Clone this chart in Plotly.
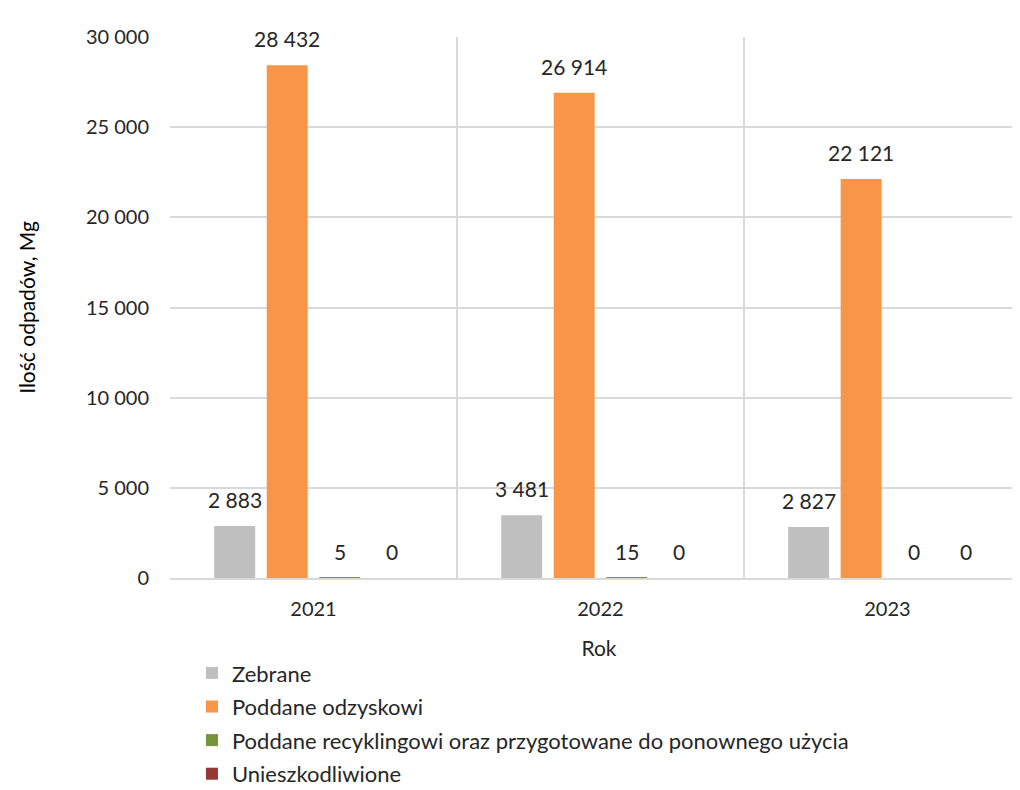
import plotly.graph_objects as go

years = ["2021", "2022", "2023"]
series_names = [
    "Zebrane",
    "Poddane odzyskowi",
    "Poddane recyklingowi oraz przygotowane do ponownego użycia",
    "Unieszkodliwione",
]
zebrane = [2883, 3481, 2827]
odzysk = [28432, 26914, 22121]
recykling = [5, 15, 0]
unieszkodliwione = [0, 0, 0]
series_values = [zebrane, odzysk, recykling, unieszkodliwione]
colors = ["#bfbfbf", "#f79646", "#77933c", "#953735"]

FONT = "Lato"
xs = list(range(len(years)))

fig = go.Figure()
for i, (name, vals, col) in enumerate(zip(series_names, series_values, colors)):
    fig.add_trace(go.Bar(
        x=xs, y=vals, name=name, marker=dict(color=col, line=dict(width=0)),
        legendgroup=name,
    ))

annotations = []
slot_px = 52.5
for i, vals in enumerate(series_values):
    for xi, v in zip(xs, vals):
        annotations.append(dict(
            x=xi, y=v, xref="x", yref="y", text=f"{v:,}".replace(",", " "),
            showarrow=False, yanchor="bottom", xanchor="center",
            xshift=(i - 1.5) * slot_px, yshift=12,
            font=dict(family=FONT, size=21, color="#262626"),
        ))

fig.update_layout(
    width=1020, height=790,
    margin=dict(l=162, r=0, t=29, b=220, autoexpand=False),
    paper_bgcolor="white", plot_bgcolor="white",
    separators=", ",
    barmode="group", bargap=0.268, bargroupgap=0.22,
    font=dict(family=FONT, size=20, color="#404040"),
    showlegend=True,
    legend=dict(
        orientation="v", x=0.0256, xanchor="left", y=-0.137, yanchor="top",
        font=dict(family=FONT, size=22, color="#262626"),
        tracegroupgap=2, traceorder="grouped", itemwidth=30,
    ),
    annotations=annotations,
    xaxis=dict(
        range=[-0.5, 2.49],
        tickmode="array", tickvals=xs, ticktext=years,
        showgrid=False, zeroline=False,
        showline=True, linecolor="#d9d9d9", linewidth=2,
        ticks="", ticklabelstandoff=12,
        tickfont=dict(family=FONT, size=20, color="#262626"),
        title=dict(text="Rok", font=dict(family=FONT, size=21, color="#262626"), standoff=22),
        minor=dict(tickmode="array", tickvals=[-0.5, 0.5, 1.5, 2.5],
                   showgrid=True, gridcolor="#d9d9d9", gridwidth=2, ticks=""),
    ),
    yaxis=dict(
        range=[0, 30000], tickmode="linear", tick0=0, dtick=5000,
        showgrid=True, gridcolor="#d9d9d9", gridwidth=2,
        zeroline=False, showline=False,
        tickformat=",d", ticklabelstandoff=20,
        tickfont=dict(family=FONT, size=20, color="#262626"),
        title=dict(text="Ilość odpadów, Mg", font=dict(family=FONT, size=21, color="#000000"), standoff=44),
    ),
)

fig.write_html("out.html")
